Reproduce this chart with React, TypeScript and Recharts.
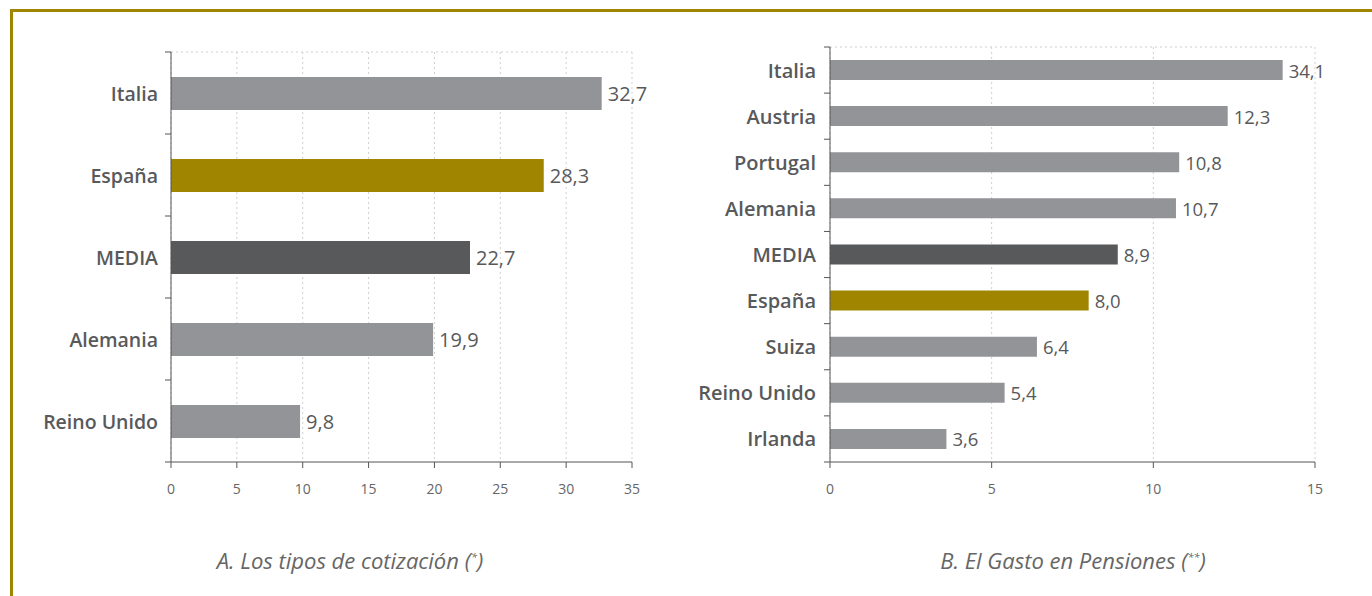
import { BarChart, Bar, XAxis, YAxis, CartesianGrid, Cell, LabelList } from "recharts";

// A. contribution rates
const rateCountries = ["Italia", "España", "MEDIA", "Alemania", "Reino Unido"];
const rateValues = [32.7, 28.3, 22.7, 19.9, 9.8];
const rateTicks = [0, 5, 10, 15, 20, 25, 30, 35];

// B. pension spending
const pensionCountries = ["Italia", "Austria", "Portugal", "Alemania", "MEDIA", "España", "Suiza", "Reino Unido", "Irlanda"];
const pensionValues = [34.1, 12.3, 10.8, 10.7, 8.9, 8.0, 6.4, 5.4, 3.6];
const pensionTicks = [0, 5, 10, 15];
// the original cuts the Italia bar short of the axis end
const pensionBarCap = 14;

const GOLD = "#a08600";
const DARK = "#58595b";
const GREY = "#939498";
const FONT = "'Open Sans', sans-serif";

const barColor = (name: string) => (name === "España" ? GOLD : name === "MEDIA" ? DARK : GREY);
const fmt = (v: number) => v.toFixed(1).replace(".", ",");

const rateData = rateCountries.map((name, i) => ({ name, value: rateValues[i], shown: rateValues[i] }));
const pensionData = pensionCountries.map((name, i) => ({
  name,
  value: pensionValues[i],
  shown: Math.min(pensionValues[i], pensionBarCap),
}));

function makeTick(band: number, count: number, fontSize: number, margin: number) {
  return (p: any) => {
    const { x, y, payload, index } = p;
    const ax = x + margin;
    return (
      <g>
        <line x1={ax} x2={ax + 6} y1={y - band / 2} y2={y - band / 2} stroke="#555" strokeWidth={1} />
        {index === count - 1 && (
          <line x1={ax} x2={ax + 6} y1={y + band / 2} y2={y + band / 2} stroke="#555" strokeWidth={1} />
        )}
        <text x={x} y={y} textAnchor="end" dominantBaseline="central" fill="#58595b" fontFamily={FONT} fontWeight={600} fontSize={fontSize}>
          {payload.value}
        </text>
      </g>
    );
  };
}

function makeValueLabel(gap: number, fontSize: number) {
  return (p: any) => {
    const { x, y, width, height, value } = p;
    return (
      <text x={x + width + gap} y={y + height / 2} dominantBaseline="central" fill="#58595b" fontFamily={FONT} fontSize={fontSize}>
        {fmt(value)}
      </text>
    );
  };
}

const axisTick = { fontSize: 14, fill: "#666", fontFamily: FONT };

function Caption({ left, children }: { left: number; children: any }) {
  return (
    <div
      style={{
        position: "absolute",
        left,
        top: 542,
        width: 680,
        textAlign: "center",
        fontFamily: FONT,
        fontStyle: "italic",
        fontSize: 22,
        lineHeight: "30px",
        color: "#666",
      }}
    >
      {children}
    </div>
  );
}

export default function App() {
  return (
    <div style={{ position: "absolute", left: 0, top: 0, width: 1372, height: 596, background: "#fff", overflow: "hidden" }}>
      <div
        style={{
          position: "absolute",
          left: 10,
          top: 9,
          width: 1400,
          height: 620,
          borderTop: `3px solid ${GOLD}`,
          borderLeft: `3px solid ${GOLD}`,
        }}
      />

      <div style={{ position: "absolute", left: 0, top: 0 }}>
        <BarChart width={700} height={596} data={rateData} layout="vertical" margin={{ top: 52, right: 68, bottom: 104, left: 11 }}>
          <CartesianGrid
            stroke="#cfcfcf"
            strokeDasharray="2 3"
            horizontalCoordinatesGenerator={(p: any) => [p.offset.top]}
          />
          <XAxis
            type="number"
            domain={[0, 35]}
            ticks={rateTicks}
            axisLine={{ stroke: "#555" }}
            tickLine={{ stroke: "#555" }}
            tickSize={6}
            tickMargin={16}
            tick={axisTick}
            height={30}
          />
          <YAxis
            type="category"
            dataKey="name"
            width={160}
            axisLine={{ stroke: "#555" }}
            tickLine={false}
            tickSize={6}
            tickMargin={7}
            tick={makeTick(82, rateCountries.length, 19.5, 7)}
          />
          <Bar dataKey="shown" barSize={33} isAnimationActive={false}>
            {rateData.map((d) => (
              <Cell key={d.name} fill={barColor(d.name)} />
            ))}
            <LabelList dataKey="value" content={makeValueLabel(6, 20)} />
          </Bar>
        </BarChart>
      </div>

      <div style={{ position: "absolute", left: 690, top: 0 }}>
        <BarChart width={682} height={596} data={pensionData} layout="vertical" margin={{ top: 47, right: 57, bottom: 104, left: 10 }}>
          <CartesianGrid
            stroke="#cfcfcf"
            strokeDasharray="2 3"
            horizontalCoordinatesGenerator={(p: any) => [p.offset.top]}
          />
          <XAxis
            type="number"
            domain={[0, 15]}
            ticks={pensionTicks}
            axisLine={{ stroke: "#555" }}
            tickLine={{ stroke: "#555" }}
            tickSize={6}
            tickMargin={16}
            tick={axisTick}
            height={30}
          />
          <YAxis
            type="category"
            dataKey="name"
            width={130}
            axisLine={{ stroke: "#555" }}
            tickLine={false}
            tickSize={6}
            tickMargin={8}
            tick={makeTick(415 / 9, pensionCountries.length, 20, 8)}
          />
          <Bar dataKey="shown" barSize={20} isAnimationActive={false}>
            {pensionData.map((d) => (
              <Cell key={d.name} fill={barColor(d.name)} />
            ))}
            <LabelList dataKey="value" content={makeValueLabel(6, 18.5)} />
          </Bar>
        </BarChart>
      </div>

      <Caption left={10}>
        A. Los tipos de cotización (<sup style={{ fontSize: 11 }}>*</sup>)
      </Caption>
      <Caption left={733}>
        B. El Gasto en Pensiones (<sup style={{ fontSize: 11 }}>**</sup>)
      </Caption>
    </div>
  );
}
